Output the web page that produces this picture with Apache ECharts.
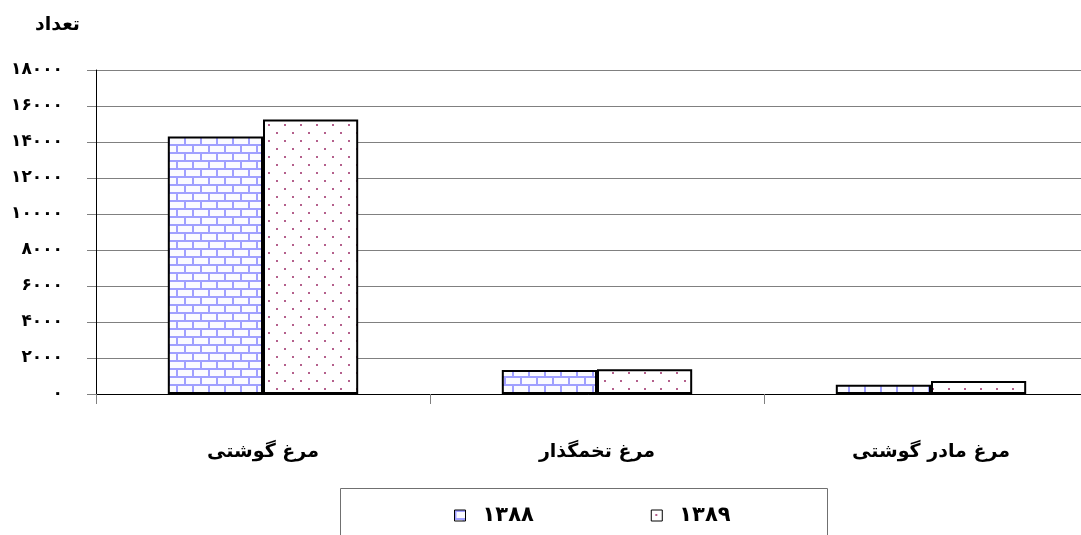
<!DOCTYPE html>
<html><head><meta charset="utf-8">
<script src="https://cdn.jsdelivr.net/npm/echarts@6/dist/echarts.min.js"></script>
<style>html,body{margin:0;padding:0;background:#fff}#c{width:1081px;height:535px}</style>
</head><body><div id="c"></div>
<script>
const categories = ['مرغ گوشتی', 'مرغ تخمگذار', 'مرغ مادر گوشتی'];
const seriesNames = ['۱۳۸۸', '۱۳۸۹'];
const values1388 = [14300, 1330, 520];
const values1389 = [15250, 1370, 720];
const yTicks = [0, 2000, 4000, 6000, 8000, 10000, 12000, 14000, 16000, 18000];
const yAxisTitle = 'تعداد';

function toPersian(n){ return String(n).replace(/[0-9]/g, d => '۰۱۲۳۴۵۶۷۸۹'[d]); }

function brick(){
  const c = document.createElement('canvas'); c.width = 16; c.height = 16;
  const g = c.getContext('2d');
  g.fillStyle = '#fbfbff'; g.fillRect(0,0,16,16);
  g.strokeStyle = '#a0a0ff'; g.lineWidth = 2;
  g.beginPath();
  g.moveTo(0,1); g.lineTo(16,1);
  g.moveTo(0,9); g.lineTo(16,9);
  g.moveTo(1,1); g.lineTo(1,9);
  g.moveTo(9,9); g.lineTo(9,16);
  g.stroke();
  return c;
}
function dots(){
  const c = document.createElement('canvas'); c.width = 16; c.height = 16;
  const g = c.getContext('2d');
  g.fillStyle = '#ffffff'; g.fillRect(0,0,16,16);
  g.fillStyle = '#b4608c';
  g.fillRect(4,4,2,2); g.fillRect(12,12,2,2);
  return c;
}

const chart = echarts.init(document.getElementById('c'), null, {renderer:'canvas'});
const font = '"DejaVu Sans", "Noto Sans", sans-serif';
chart.setOption({
  animation: false,
  backgroundColor: '#fff',
  grid: { left: 96, top: 70, width: 1002, height: 324, containLabel: false, outerBoundsMode: 'none' },
  graphic: [
    { type: 'text', x: 80, y: 25, style: { text: yAxisTitle, font: 'bold 19px ' + font, fill: '#000', align: 'right', verticalAlign: 'middle' } },
    { type: 'rect', shape: { x: 340.5, y: 488.5, width: 487, height: 60 }, style: { fill: 'none', stroke: '#707070', lineWidth: 1 }, z: 0 }
  ],
  legend: {
    data: seriesNames,
    left: 454, top: 505, padding: 0,
    icon: 'rect',
    itemWidth: 11, itemHeight: 11, itemGap: 117,
    itemStyle: { borderWidth: 1, borderColor: '#000' },
    textStyle: { fontFamily: font, fontWeight: 'bold', fontSize: 21, color: '#000', padding: [0,0,0,12] }
  },
  xAxis: {
    type: 'category', data: categories,
    axisLine: { lineStyle: { color: '#000', width: 1 } },
    axisTick: { show: true, length: 10, lineStyle: { color: '#808080' } },
    axisLabel: { margin: 49, fontFamily: font, fontWeight: 'bold', fontSize: 19, color: '#000' }
  },
  yAxis: {
    type: 'value', min: yTicks[0], max: yTicks[yTicks.length-1], interval: 2000,
    axisLine: { show: true, lineStyle: { color: '#000', width: 1 } },
    axisTick: { show: true, length: 9, lineStyle: { color: '#808080' } },
    splitLine: { lineStyle: { color: '#808080', width: 1 } },
    axisLabel: { margin: 33, fontFamily: font, fontWeight: 'bold', fontSize: 17, color: '#000', formatter: v => toPersian(v) }
  },
  series: [
    { name: seriesNames[0], type: 'bar', data: values1388, barGap: '0%', barCategoryGap: '43%',
      itemStyle: { color: { image: brick(), repeat: 'repeat' }, borderColor: '#000', borderWidth: 2 } },
    { name: seriesNames[1], type: 'bar', data: values1389, barGap: '0%', barCategoryGap: '43%',
      itemStyle: { color: { image: dots(), repeat: 'repeat' }, borderColor: '#000', borderWidth: 2 } }
  ]
});
</script></body></html>
